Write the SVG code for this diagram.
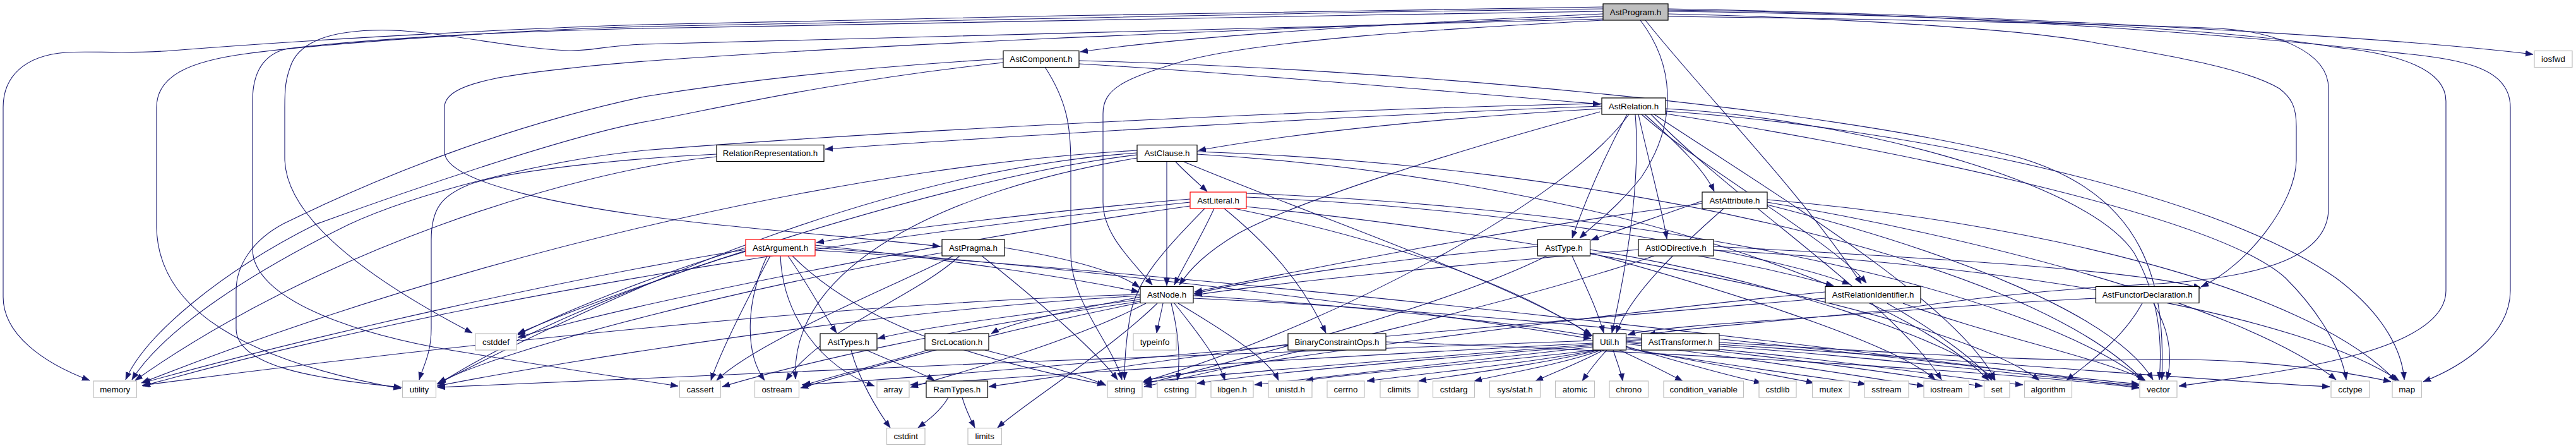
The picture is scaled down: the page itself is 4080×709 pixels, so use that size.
<svg xmlns="http://www.w3.org/2000/svg" width="4080" height="709" viewBox="0 0 4080 709">
<style>
.e{fill:none;stroke:#191970;stroke-width:1.1;marker-end:url(#arr)}
.n rect{fill:#fff;stroke:#000;stroke-width:1.2}
.s rect{fill:#fff;stroke:#bfbfbf;stroke-width:1.2}
.r rect{fill:#fff;stroke:#ff0000;stroke-width:1.2}
.g rect{fill:#bfbfbf;stroke:#000;stroke-width:1.2}
text{font-family:"Liberation Sans",Arial,Helvetica,sans-serif;font-size:13.33px;text-anchor:middle;fill:#000}
</style>
<defs>
<marker id="arr" markerUnits="userSpaceOnUse" markerWidth="13" markerHeight="10" refX="12" refY="4.5" orient="auto">
<path d="M0,0 L12,4.5 L0,9 z" fill="#191970" stroke="#191970" stroke-width="0.5"/>
</marker>
</defs>
<rect width="4080" height="709" fill="#fff"/>
<g id="edges">
<!-- AstProgram.h -->
<path class="e" d="M2539,22 C2250,35 1900,55 1711,82"/>
<path class="e" d="M2539,11 C2100,16 1500,28 1020,39 C800,46 500,62 273,80 C200,86 140,80 104,83 C40,88 5,120 5,170 L5,470 C5,530 70,575 142,602"/>
<path class="e" d="M2539,14 C2000,20 1400,35 1020,42 C800,48 500,70 390,85 C300,97 248,120 248,170 L248,360 C250,460 330,560 635,615"/>
<path class="e" d="M2539,18 C2000,26 1400,36 1020,45 C800,50 600,60 455,77 C420,85 400,110 400,160 L400,394 C400,470 550,530 750,560 C900,585 1000,600 1074,611"/>
<path class="e" d="M2539,30 C2000,45 1300,62 1020,70 C960,72 930,82 898,80 C800,75 700,50 620,48 C540,46 480,60 462,100 C452,125 451,140 451,170 L451,250 C451,350 600,450 748,527"/>
<path class="e" d="M2539,26 C2200,40 1500,62 1020,97 C800,115 704,130 704,170 L704,240 C704,290 900,330 1130,355 C1300,372 1400,380 1489,390"/>
<path class="e" d="M2539,32 C2300,45 2000,62 1870,98 C1780,125 1747,140 1747,180 L1747,320 C1747,370 1790,410 1825,451"/>
<path class="e" d="M2598,32 C2650,100 2660,190 2600,280 C2560,330 2530,350 2502,377"/>
<path class="e" d="M2606,32 C2700,150 2850,300 2948,449"/>
<path class="e" d="M2642,22 C2900,28 3200,45 3320,68 C3450,90 3560,110 3610,140 C3630,155 3637,170 3637,200 L3637,253 C3637,320 3560,420 3486,454"/>
<path class="e" d="M2642,26 C3000,30 3400,40 3515,45 C3600,50 3688,80 3688,140 L3688,330 C3688,400 3600,440 3400,450 C3200,460 3050,483 3000,490 C2800,510 2660,520 2610,530"/>
<path class="e" d="M2642,18 C3000,22 3500,40 3700,75 C3800,85 3874,110 3874,160 L3874,460 C3874,560 3600,590 3451,611"/>
<path class="e" d="M2642,16 C3100,20 3600,60 3780,82 C3880,92 3976,100 3976,170 L3976,460 C3976,530 3900,580 3838,604"/>
<path class="e" d="M2642,14 C3200,24 3800,60 4012,86"/>
<!-- AstComponent.h -->
<path class="e" d="M1709,101 C1950,115 2300,145 2535,165"/>
<path class="e" d="M1589,99 C1300,130 1100,180 1020,193 C900,215 650,300 500,355 C350,430 230,530 199,601"/>
<path class="e" d="M1589,93 C1300,110 1100,140 1020,153 C800,200 600,280 449,354 C400,380 374,420 374,460 L374,520 C374,580 500,600 636,613"/>
<path class="e" d="M1655,106 C1690,160 1696,200 1696,260 L1696,400 C1696,480 1760,540 1777,601"/>
<path class="e" d="M1709,96 C2200,108 2900,170 3200,250 C3400,310 3430,450 3424,601"/>
<!-- AstRelation.h -->
<path class="e" d="M2537,168 C2200,180 1600,215 1307,236"/>
<path class="e" d="M2537,172 C2300,185 2050,210 1898,238"/>
<path class="e" d="M2537,164 C2200,170 1500,200 1020,238 C850,255 650,310 553,355 C400,430 260,520 209,601"/>
<path class="e" d="M2605,181 C2660,230 2700,270 2715,303"/>
<path class="e" d="M2577,181 C2540,250 2510,320 2490,377"/>
<path class="e" d="M2595,181 C2610,250 2630,320 2640,378"/>
<path class="e" d="M2534,177 C2300,240 2050,320 1960,370 C1910,400 1885,425 1868,451"/>
<path class="e" d="M2600,181 C2700,270 2900,380 2956,448"/>
<path class="e" d="M2590,181 C2600,300 2570,450 2553,527"/>
<path class="e" d="M2580,181 C2480,320 2100,520 1811,604"/>
<path class="e" d="M2638,172 C2900,185 3300,280 3380,400 C3420,470 3425,540 3420,601"/>
<path class="e" d="M2638,176 C3000,200 3500,300 3700,440 C3780,500 3805,560 3808,601"/>
<path class="e" d="M2638,180 C2900,220 3500,330 3620,440 C3680,500 3710,560 3716,601"/>
<path class="e" d="M2620,181 C2800,300 3100,480 3160,601"/>
<path class="e" d="M2615,181 C2750,320 3000,480 3075,601"/>
<!-- RelationRepresentation.h -->
<path class="e" d="M1135,244 C1000,250 800,270 741,293 C700,310 683,330 683,380 L683,520 C683,560 670,580 664,601"/>
<path class="e" d="M1135,248 C900,270 500,400 214,602"/>
<!-- AstClause.h -->
<path class="e" d="M1862,256 C1880,275 1900,292 1912,303"/>
<path class="e" d="M1848,256 L1848,452"/>
<path class="e" d="M1801,238 C1400,260 800,380 224,606"/>
<path class="e" d="M1801,242 C1400,270 1000,450 692,608"/>
<path class="e" d="M1801,245 C1500,280 1000,450 820,528"/>
<path class="e" d="M1801,250 C1500,300 1250,420 1260,600"/>
<path class="e" d="M1875,256 C2100,350 2400,450 2520,530"/>
<path class="e" d="M1896,240 C2500,260 3200,400 3395,602"/>
<path class="e" d="M1896,244 C2500,280 3000,450 3150,602"/>
<!-- AstLiteral.h -->
<path class="e" d="M1885,315 C1700,330 1400,365 1293,384"/>
<path class="e" d="M1923,330 C1900,380 1875,420 1860,451"/>
<path class="e" d="M1939,330 C2000,380 2060,440 2100,527"/>
<path class="e" d="M1955,330 C2200,380 2400,450 2522,532"/>
<path class="e" d="M1974,312 C2400,330 2800,400 2930,450"/>
<path class="e" d="M1885,320 C1500,360 800,450 226,611"/>
<path class="e" d="M1885,326 C1500,380 1000,480 820,534"/>
<path class="e" d="M1908,330 C1850,390 1800,440 1790,500 C1783,540 1781,570 1781,601"/>
<path class="e" d="M1974,306 C2600,330 3200,450 3398,604"/>
<path class="e" d="M1973,327 C2500,380 3100,500 3230,602"/>
<!-- AstAttribute.h -->
<path class="e" d="M2696,318 C2620,345 2560,365 2520,380"/>
<path class="e" d="M2696,322 C2400,360 2100,420 1892,462"/>
<path class="e" d="M2799,316 C3200,350 3650,450 3795,603"/>
<path class="e" d="M2799,320 C3100,370 3550,480 3700,601"/>
<path class="e" d="M2799,324 C3100,400 3350,500 3410,601"/>
<path class="e" d="M2730,330 C2650,400 2580,470 2560,527"/>
<!-- AstArgument.h -->
<path class="e" d="M1220,405 C1180,480 1140,560 1126,602"/>
<path class="e" d="M1215,405 C1180,480 1180,560 1211,602"/>
<path class="e" d="M1236,405 C1240,500 1300,580 1385,611"/>
<path class="e" d="M1248,405 C1280,450 1300,490 1325,527"/>
<path class="e" d="M1255,405 C1350,500 1500,560 1750,609"/>
<path class="e" d="M1291,388 C1500,410 1700,440 1804,462"/>
<path class="e" d="M1291,392 C1800,430 2300,500 2520,536"/>
<path class="e" d="M1181,395 C900,440 500,530 226,606"/>
<path class="e" d="M1181,398 C1000,450 800,540 694,608"/>
<path class="e" d="M1181,392 C1050,430 900,490 820,530"/>
<path class="e" d="M1291,396 C2000,440 3000,560 3388,613"/>
<!-- AstPragma.h -->
<path class="e" d="M1591,392 C1700,410 1770,430 1805,455"/>
<path class="e" d="M1510,405 C1400,460 1200,540 1135,602"/>
<path class="e" d="M1520,405 C1450,470 1300,520 1245,602"/>
<path class="e" d="M1555,405 C1650,480 1740,560 1770,601"/>
<path class="e" d="M1492,400 C1200,450 800,550 694,606"/>
<!-- AstType.h -->
<path class="e" d="M2435,390 C2200,410 2000,440 1891,465"/>
<path class="e" d="M2450,405 C2300,480 2000,560 1812,608"/>
<path class="e" d="M2490,405 C2510,450 2530,490 2540,527"/>
<path class="e" d="M2518,400 C2700,450 3000,540 3065,601"/>
<path class="e" d="M2518,395 C2800,440 3100,540 3160,602"/>
<!-- AstIODirective.h -->
<path class="e" d="M2690,405 C2780,420 2860,440 2904,452"/>
<path class="e" d="M2595,395 C2300,420 2000,450 1892,467"/>
<path class="e" d="M2714,390 C3100,410 3400,430 3486,456"/>
<path class="e" d="M2714,396 C3200,420 3650,500 3800,603"/>
<path class="e" d="M2620,405 C2400,480 2000,570 1812,612"/>
<!-- AstNode.h -->
<path class="e" d="M1842,480 C1838,500 1834,515 1832,527"/>
<path class="e" d="M1806,470 C1700,490 1600,510 1570,528"/>
<path class="e" d="M1806,474 C1600,500 1450,520 1390,536"/>
<path class="e" d="M1833,480 C1750,560 1620,640 1580,677"/>
<path class="e" d="M1855,480 C1870,540 1868,580 1865,602"/>
<path class="e" d="M1860,480 C1900,530 1930,570 1940,602"/>
<path class="e" d="M1866,480 C1950,530 2010,570 2025,602"/>
<path class="e" d="M1806,466 C1300,480 600,560 225,610"/>
<path class="e" d="M1806,468 C1400,490 900,570 692,611"/>
<path class="e" d="M1806,477 C1500,520 1250,580 1144,612"/>
<path class="e" d="M1806,479 C1550,530 1350,590 1268,614"/>
<path class="e" d="M1815,480 C1700,540 1520,590 1442,613"/>
<path class="e" d="M1890,468 C2100,480 2400,510 2520,532"/>
<path class="e" d="M1890,472 C2500,500 3100,580 3388,608"/>
<!-- AstRelationIdentifier.h -->
<path class="e" d="M2891,462 C2500,500 2000,570 1812,602"/>
<path class="e" d="M2891,472 C2300,520 1600,590 1270,609"/>
<path class="e" d="M2989,480 C3060,520 3130,570 3155,602"/>
<path class="e" d="M3014,480 C3150,530 3340,570 3398,602"/>
<!-- AstFunctorDeclaration.h -->
<path class="e" d="M3320,472 C3200,478 3060,488 3000,493 C2800,508 2620,517 2578,530"/>
<path class="e" d="M3393,480 C3360,540 3300,580 3273,602"/>
<path class="e" d="M3411,480 C3440,530 3440,570 3432,601"/>
<!-- BinaryConstraintOps.h -->
<path class="e" d="M2040,545 C1800,575 1650,600 1566,612"/>
<path class="e" d="M2195,541 C2700,560 3200,590 3388,614"/>
<!-- SrcLocation.h -->
<path class="e" d="M1470,554 C1400,575 1320,595 1272,610"/>
<path class="e" d="M1560,554 C1640,575 1720,595 1752,610"/>
<!-- AstTypes.h -->
<path class="e" d="M1348,554 C1360,600 1390,650 1410,677"/>
<path class="e" d="M1372,554 C1420,575 1460,590 1480,602"/>
<!-- RamTypes.h -->
<path class="e" d="M1502,629 C1490,650 1470,665 1454,677"/>
<path class="e" d="M1524,629 C1530,650 1538,665 1544,677"/>
<!-- Util.h -->
<path class="e" d="M2523,539 C2000,555 1200,590 693,613"/>
<path class="e" d="M2523,543 C2100,565 1700,590 1442,609"/>
<path class="e" d="M2523,545 C2200,570 1950,590 1811,605"/>
<path class="e" d="M2523,547 C2250,570 2000,590 1896,607"/>
<path class="e" d="M2523,549 C2300,575 2100,595 1987,609"/>
<path class="e" d="M2525,554 C2350,575 2150,590 2068,602"/>
<path class="e" d="M2530,554 C2420,575 2250,592 2165,603"/>
<path class="e" d="M2533,554 C2450,575 2320,592 2247,603"/>
<path class="e" d="M2536,554 C2480,575 2380,592 2335,603"/>
<path class="e" d="M2540,554 C2500,575 2460,590 2432,603"/>
<path class="e" d="M2545,554 C2530,570 2515,590 2506,603"/>
<path class="e" d="M2555,554 C2560,570 2568,590 2570,603"/>
<path class="e" d="M2565,554 C2600,570 2640,590 2665,603"/>
<path class="e" d="M2575,548 C2650,570 2740,595 2790,606"/>
<path class="e" d="M2575,550 C2700,575 2820,595 2873,606"/>
<path class="e" d="M2575,552 C2750,580 2900,600 2955,608"/>
<path class="e" d="M2575,544 C2800,570 2970,600 3048,611"/>
<path class="e" d="M2575,542 C2850,565 3050,600 3140,611"/>
<path class="e" d="M2575,540 C2900,565 3100,600 3204,609"/>
<path class="e" d="M2575,538 C2950,560 3250,600 3388,610"/>
<path class="e" d="M2575,536 C3000,560 3450,600 3690,612"/>
<path class="e" d="M2575,534 C2900,550 3200,575 3385,569 C3550,565 3700,585 3787,604"/>
</g>
<g id="n-AstProgram" class="g"><rect x="2539" y="6" width="103" height="26"/><text x="2590.5" y="23.8">AstProgram.h</text></g>
<g id="n-AstComponent" class="n"><rect x="1589" y="80.5" width="120" height="26"/><text x="1649" y="98.3">AstComponent.h</text></g>
<g id="n-iosfwd" class="s"><rect x="4014" y="80.5" width="60" height="26"/><text x="4044" y="98.3">iosfwd</text></g>
<g id="n-AstRelation" class="n"><rect x="2537" y="155" width="101" height="26"/><text x="2587.5" y="172.8">AstRelation.h</text></g>
<g id="n-RelationRepresentation" class="n"><rect x="1135" y="229.5" width="170" height="26"/><text x="1220" y="247.3">RelationRepresentation.h</text></g>
<g id="n-AstClause" class="n"><rect x="1801" y="229.5" width="95" height="26"/><text x="1848.5" y="247.3">AstClause.h</text></g>
<g id="n-AstLiteral" class="r"><rect x="1885" y="304" width="89" height="26"/><text x="1929.5" y="321.8">AstLiteral.h</text></g>
<g id="n-AstAttribute" class="n"><rect x="2696" y="304" width="103" height="26"/><text x="2747.5" y="321.8">AstAttribute.h</text></g>
<g id="n-AstArgument" class="r"><rect x="1181" y="379" width="110" height="26"/><text x="1236" y="396.8">AstArgument.h</text></g>
<g id="n-AstPragma" class="n"><rect x="1492" y="379" width="99" height="26"/><text x="1541.5" y="396.8">AstPragma.h</text></g>
<g id="n-AstType" class="n"><rect x="2435.5" y="379" width="83" height="26"/><text x="2477" y="396.8">AstType.h</text></g>
<g id="n-AstIODirective" class="n"><rect x="2595" y="379" width="119" height="26"/><text x="2654.5" y="396.8">AstIODirective.h</text></g>
<g id="n-AstNode" class="n"><rect x="1806" y="453.5" width="84" height="26"/><text x="1848" y="471.3">AstNode.h</text></g>
<g id="n-AstRelationIdentifier" class="n"><rect x="2891" y="453.5" width="151" height="26"/><text x="2966.5" y="471.3">AstRelationIdentifier.h</text></g>
<g id="n-AstFunctorDeclaration" class="n"><rect x="3319.5" y="453.5" width="163.5" height="26"/><text x="3401.2" y="471.3">AstFunctorDeclaration.h</text></g>
<g id="n-cstddef" class="s"><rect x="753" y="528" width="65" height="26"/><text x="785.5" y="545.8">cstddef</text></g>
<g id="n-AstTypes" class="n"><rect x="1299" y="528" width="90" height="26"/><text x="1344" y="545.8">AstTypes.h</text></g>
<g id="n-SrcLocation" class="n"><rect x="1465" y="528" width="101" height="26"/><text x="1515.5" y="545.8">SrcLocation.h</text></g>
<g id="n-typeinfo" class="s"><rect x="1795" y="528" width="68" height="26"/><text x="1829" y="545.8">typeinfo</text></g>
<g id="n-BinaryConstraintOps" class="n"><rect x="2040" y="528" width="155" height="26"/><text x="2117.5" y="545.8">BinaryConstraintOps.h</text></g>
<g id="n-Util" class="n"><rect x="2523" y="528" width="52.5" height="26"/><text x="2549.2" y="545.8">Util.h</text></g>
<g id="n-AstTransformer" class="n"><rect x="2600" y="528" width="123" height="26"/><text x="2661.5" y="545.8">AstTransformer.h</text></g>
<g id="n-memory" class="s"><rect x="148" y="603" width="68.5" height="26"/><text x="182.2" y="620.8">memory</text></g>
<g id="n-utility" class="s"><rect x="637.5" y="603" width="53" height="26"/><text x="664" y="620.8">utility</text></g>
<g id="n-cassert" class="s"><rect x="1076.5" y="603" width="65" height="26"/><text x="1109" y="620.8">cassert</text></g>
<g id="n-ostream" class="s"><rect x="1195.5" y="603" width="70" height="26"/><text x="1230.5" y="620.8">ostream</text></g>
<g id="n-array" class="s"><rect x="1389" y="603" width="51" height="26"/><text x="1414.5" y="620.8">array</text></g>
<g id="n-RamTypes" class="n"><rect x="1467" y="603" width="97.5" height="26"/><text x="1515.7" y="620.8">RamTypes.h</text></g>
<g id="n-string" class="s"><rect x="1754" y="603" width="55" height="26"/><text x="1781.5" y="620.8">string</text></g>
<g id="n-cstring" class="s"><rect x="1833" y="603" width="61" height="26"/><text x="1863.5" y="620.8">cstring</text></g>
<g id="n-libgen" class="s"><rect x="1918" y="603" width="67" height="26"/><text x="1951.5" y="620.8">libgen.h</text></g>
<g id="n-unistd" class="s"><rect x="2009" y="603" width="69" height="26"/><text x="2043.5" y="620.8">unistd.h</text></g>
<g id="n-cerrno" class="s"><rect x="2102" y="603" width="59" height="26"/><text x="2131.5" y="620.8">cerrno</text></g>
<g id="n-climits" class="s"><rect x="2186" y="603" width="60" height="26"/><text x="2216" y="620.8">climits</text></g>
<g id="n-cstdarg" class="s"><rect x="2269.5" y="603" width="66" height="26"/><text x="2302.5" y="620.8">cstdarg</text></g>
<g id="n-sysstat" class="s"><rect x="2359.5" y="603" width="80" height="26"/><text x="2399.5" y="620.8">sys/stat.h</text></g>
<g id="n-atomic" class="s"><rect x="2463.5" y="603" width="62" height="26"/><text x="2494.5" y="620.8">atomic</text></g>
<g id="n-chrono" class="s"><rect x="2549" y="603" width="61.5" height="26"/><text x="2579.7" y="620.8">chrono</text></g>
<g id="n-condition_variable" class="s"><rect x="2635" y="603" width="126.5" height="26"/><text x="2698.2" y="620.8">condition_variable</text></g>
<g id="n-cstdlib" class="s"><rect x="2786" y="603" width="59" height="26"/><text x="2815.5" y="620.8">cstdlib</text></g>
<g id="n-mutex" class="s"><rect x="2870.5" y="603" width="58.5" height="26"/><text x="2899.7" y="620.8">mutex</text></g>
<g id="n-sstream" class="s"><rect x="2953" y="603" width="70" height="26"/><text x="2988" y="620.8">sstream</text></g>
<g id="n-iostream" class="s"><rect x="3047" y="603" width="71.5" height="26"/><text x="3082.7" y="620.8">iostream</text></g>
<g id="n-set" class="s"><rect x="3142.5" y="603" width="40.5" height="26"/><text x="3162.7" y="620.8">set</text></g>
<g id="n-algorithm" class="s"><rect x="3206.5" y="603" width="75" height="26"/><text x="3244" y="620.8">algorithm</text></g>
<g id="n-vector" class="s"><rect x="3389" y="603" width="59" height="26"/><text x="3418.5" y="620.8">vector</text></g>
<g id="n-cctype" class="s"><rect x="3692" y="603" width="61" height="26"/><text x="3722.5" y="620.8">cctype</text></g>
<g id="n-map" class="s"><rect x="3789" y="603" width="46.5" height="26"/><text x="3812.2" y="620.8">map</text></g>
<g id="n-cstdint" class="s"><rect x="1404.5" y="677.5" width="60.5" height="26"/><text x="1434.7" y="695.3">cstdint</text></g>
<g id="n-limits" class="s"><rect x="1533" y="677.5" width="53.5" height="26"/><text x="1559.7" y="695.3">limits</text></g>
</svg>
